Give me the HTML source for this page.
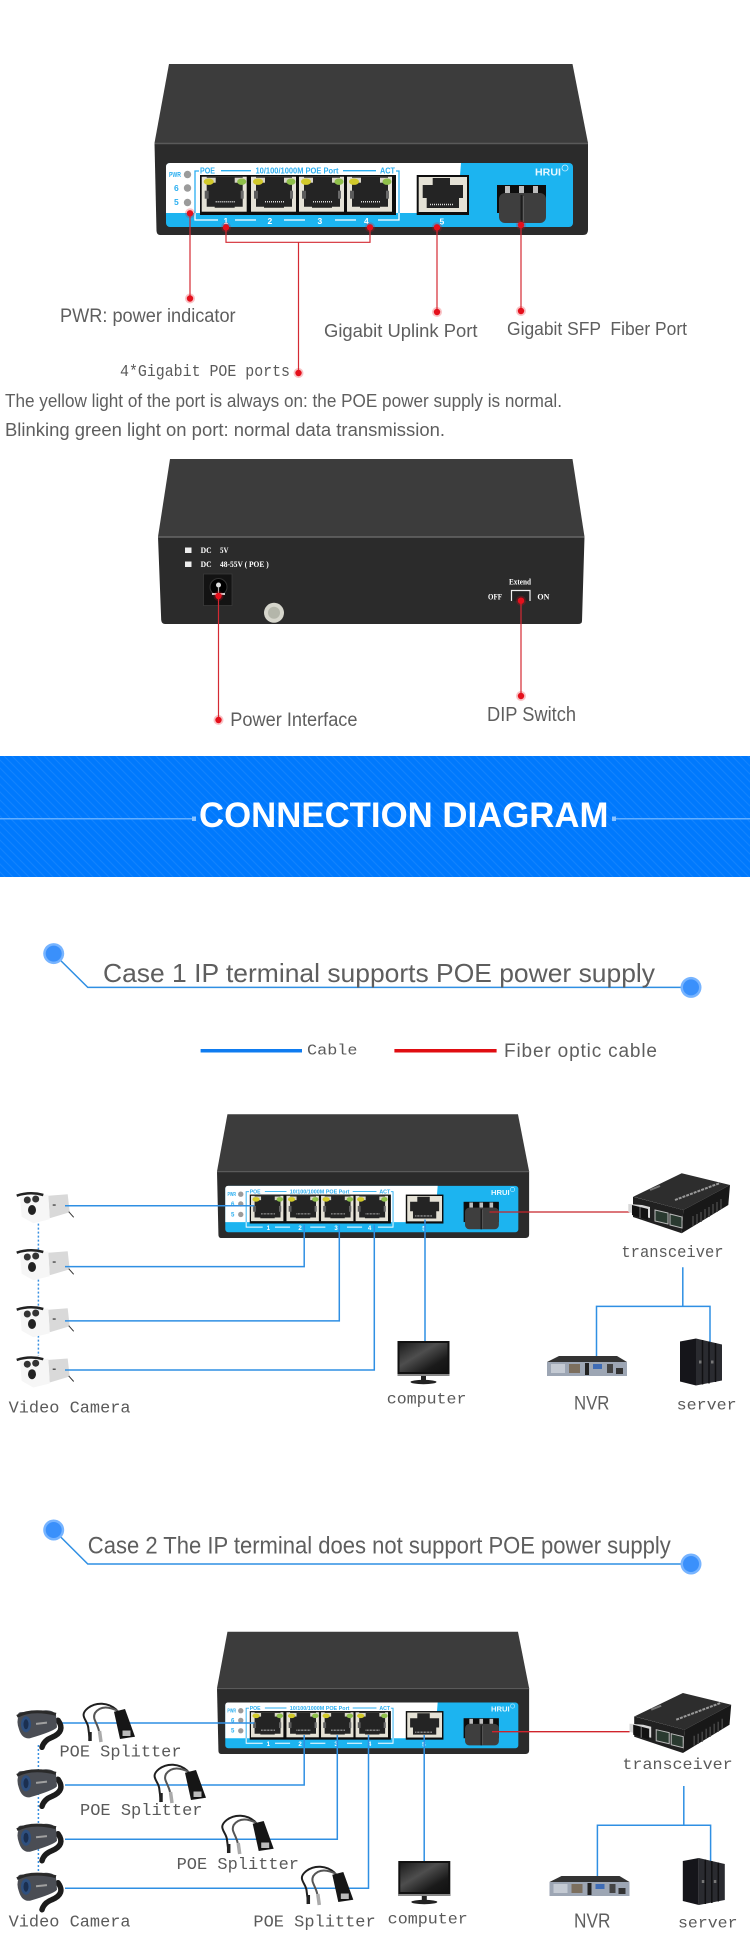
<!DOCTYPE html>
<html><head><meta charset="utf-8"><title>Connection Diagram</title>
<style>
html,body{margin:0;padding:0;background:#fff}
svg{display:block}
text{font-family:"Liberation Sans",sans-serif}
.s{fill:#5e5e5e}
.m{font-family:"Liberation Mono",monospace;fill:#5a5a5a}
.b{stroke:#2f8fe3;stroke-width:1.5;fill:none}
.r{stroke:#d42a33;stroke-width:1.2;fill:none}
.w{fill:#fff;font-family:"Liberation Serif",serif}
.c{fill:#2aaef0;font-weight:bold}
</style></head><body>
<svg width="750" height="1945" viewBox="0 0 750 1945" xmlns="http://www.w3.org/2000/svg">
<defs>
<linearGradient id="scr" x1="0" y1="0" x2="1" y2="1"><stop offset="0" stop-color="#1c1c1c"/><stop offset=".4" stop-color="#4e4e4e"/><stop offset=".75" stop-color="#1a1a1a"/><stop offset="1" stop-color="#111"/></linearGradient>
<pattern id="st" width="8" height="8" patternUnits="userSpaceOnUse"><path d="M0 0L8 8M-4 4L4 12M4 -4L12 4" stroke="#fff" stroke-opacity=".08" stroke-width="1"/></pattern>

<g id="port">
<rect width="45" height="35" fill="#e5e2d6"/>
<path d="M5 0H41V30H33V31H13V30H5Z" fill="#242424"/>
<rect x="3" y="1" width="11" height="5" fill="#d8d5c8"/><rect x="33" y="1" width="11" height="5" fill="#d8d5c8"/>
<rect x="3" y="14" width="4" height="8" fill="#5c5c5c"/><rect x="39" y="14" width="3" height="8" fill="#6a6a6a"/>
<path d="M14 25H34" stroke="#ddd" stroke-width="1.500" stroke-dasharray="1 1"/>
<ellipse cx="7" cy="5" rx="5" ry="3.200" fill="#d2c92a"/>
<ellipse cx="40" cy="5" rx="4.500" ry="3.200" fill="#8fc04a"/>
</g>

<g id="sw">
<polygon points="169,64 572.500,64 588,143 154.500,143" fill="#3c3c3c"/>
<path d="M154.500 143H588V230Q588 235 583 235H160Q157 235 156.500 231Z" fill="#2b2b2b"/>
<path d="M154.500 143.500H588" stroke="#5a5a5a" stroke-width="1.500"/>
<rect x="166" y="163" width="407" height="64" rx="4" fill="#1cb4f0"/>
<path d="M170 163H461L457 213H166V167Q166 163 170 163Z" fill="#fff"/>
<circle cx="187.500" cy="174.500" r="3.700" fill="#9b9b9b"/><circle cx="187.500" cy="188" r="3.700" fill="#9b9b9b"/><circle cx="187.500" cy="202.500" r="3.700" fill="#9b9b9b"/>
<text class="c" x="169" y="177" font-size="7.500" textLength="12" lengthAdjust="spacingAndGlyphs">PWR</text>
<text class="c" x="174" y="191" font-size="8.500">6</text>
<text class="c" x="174" y="205" font-size="8.500">5</text>
<path d="M195 213V220H218M235 220H256M284 220H305M335 220H356M378 220H399V213" fill="none" stroke="#fff" stroke-width="1.300"/>
<path d="M199 171H195V213" fill="none" stroke="#2aaef0" stroke-width="1.300"/>
<path d="M396 171H399V213" fill="none" stroke="#2aaef0" stroke-width="1.300"/>
<path d="M221 170.700H251M343 170.700H376" stroke="#2aaef0" stroke-width="1.300"/>
<text class="c" x="200" y="173.500" font-size="8" textLength="15" lengthAdjust="spacingAndGlyphs">POE</text>
<text class="c" x="255.500" y="173.500" font-size="8" textLength="83" lengthAdjust="spacingAndGlyphs">10/100/1000M POE Port</text>
<text class="c" x="380" y="173.500" font-size="8" textLength="15" lengthAdjust="spacingAndGlyphs">ACT</text>
<rect x="200" y="175" width="196" height="40" fill="#0d0d0d"/>
<use href="#port" x="201.700" y="176.700"/><use href="#port" x="251" y="176.700"/><use href="#port" x="299" y="176.700"/><use href="#port" x="347" y="176.700"/>
<g fill="#fff" font-weight="bold" font-size="8.500"><text x="223.500" y="224">1</text><text x="267.500" y="224">2</text><text x="317.500" y="224">3</text><text x="364" y="224">4</text><text x="439.500" y="224.500">5</text></g>
<rect x="416.700" y="175" width="52.300" height="40" fill="#0d0d0d"/>
<rect x="418.700" y="177" width="48.300" height="35" fill="#e5e2d6"/>
<path d="M432.700 178H450V185H463V198H459V208H426.700V198H422.700V185H432.700Z" fill="#242424"/>
<path d="M430 204.500H454" stroke="#ddd" stroke-width="1.500" stroke-dasharray="1 1"/>
<rect x="497" y="185" width="49" height="28" fill="#0d0d0d"/>
<path d="M505 186h5v7h-5zM519 186h5v7h-5zM533 186h5v7h-5z" fill="#bdbdbd"/>
<rect x="499" y="193" width="47" height="30" rx="6" fill="#3e3e3e"/>
<path d="M521.500 195V223" stroke="#1c1c1c" stroke-width="2"/><path d="M523.500 196V222" stroke="#5e5e5e" stroke-width="1"/>
<text x="535" y="175.500" fill="#e8f8ff" font-weight="bold" font-size="10" textLength="26" lengthAdjust="spacingAndGlyphs">HRUI</text>
<circle cx="565" cy="168" r="3" fill="none" stroke="#cdefff" stroke-width=".8"/>
</g>

<g id="camw">
<polygon points="31.600,3.400 51,2 53,20 33,26" fill="#d9d9d9"/>
<polygon points="3.300,4.400 31.600,2.200 33,27 16.600,31 5,24.400" fill="#f6f6f6"/>
<path d="M0 3.400Q13.300 -1 26.600 2.700" fill="none" stroke="#222" stroke-width="2.500"/>
<circle cx="10.600" cy="7.700" r="3.500" fill="#333"/><circle cx="19" cy="6.700" r="3.500" fill="#333"/>
<ellipse cx="15.300" cy="17.700" rx="4" ry="5" fill="#222"/>
<path d="M52 19.400L57 25" stroke="#333" stroke-width="1"/>
<rect x="36" y="12" width="3" height="1.500" fill="#555"/>
</g>

<g id="camd">
<path d="M42 11Q50 22 36 28Q28 31 26 38" fill="none" stroke="#1c1c1c" stroke-width="5.500" stroke-linecap="round"/>
<path d="M3 6Q1 4 4 3L30 1Q38 1 40 6L41 18Q38 22 14 29Q6 30 3 20Q0 12 3 6Z" fill="#4a4d54"/>
<path d="M1 7Q16 -1 40 5" fill="none" stroke="#2a2a2a" stroke-width="3"/>
<ellipse cx="10" cy="15" rx="5" ry="8" fill="#2e4f7e"/>
<ellipse cx="10" cy="15" rx="2.500" ry="5" fill="#1b2f50"/>
<rect x="20" y="13" width="11" height="2" fill="#a0a0a0" transform="rotate(-6 25 14)"/>
</g>

<g id="spl">
<path d="M36.700 10C28 2 16 2 8 8C-2 16 8 20 8.300 28L10 41" fill="none" stroke="#1f1f1f" stroke-width="2"/>
<path d="M38 11C28 6 20 6 15 13C12 19 17 22 19 31" fill="none" stroke="#555" stroke-width="2"/>
<path d="M10 32V41" stroke="#222" stroke-width="3.500"/><path d="M19.500 31L21 42" stroke="#aaa" stroke-width="3.500"/>
<polygon points="34,11.700 45,9 55,36.700 40,39" fill="#161616"/>
<rect x="42" y="30" width="9" height="6.500" fill="#bbb" stroke="#111" stroke-width="1"/>
</g>

<g id="trc">
<polygon points="633.300,1196.700 681.700,1173.300 730,1185 683.300,1210" fill="#2d2d2d"/>
<polygon points="683.300,1210 730,1185 728.300,1205 681.700,1233.300" fill="#181818"/>
<polygon points="633,1196.700 683.300,1210 681.700,1233.300 633,1217" fill="#202020"/>
<path d="M675 1200L720 1183" stroke="#999" stroke-width="2" stroke-dasharray="3 1"/>
<path d="M650 1190L660 1186" stroke="#777" stroke-width="2"/>
<path d="M693 1216V1226M697 1214V1224M701 1212V1222M705 1209V1219M709 1207V1217M713 1204V1214M717 1202V1212M721 1199V1209" stroke="#444" stroke-width="1.500"/>
<polygon points="628.300,1204 642,1205 650,1207 650,1218 645,1217 628.300,1212" fill="#d8d8d8"/>
<polygon points="632,1205 648,1209 648,1220 632,1215" fill="#111"/>
<path d="M640 1207V1218" stroke="#777" stroke-width="1"/>
<polygon points="655,1210 668,1213 668,1224 655,1221" fill="#2a3a30" stroke="#bbb" stroke-width="1"/>
<polygon points="670,1214 682,1217 682,1228 670,1225" fill="#2a3a30" stroke="#bbb" stroke-width="1"/>
</g>

<g id="mon">
<rect width="52" height="35" fill="#111"/>
<rect x="2" y="2" width="48" height="29" fill="url(#scr)"/>
<rect x="0" y="33" width="52" height="2" fill="#888"/>
<rect x="23.500" y="35" width="5" height="5" fill="#222"/>
<ellipse cx="26" cy="41" rx="13" ry="2.200" fill="#222"/>
</g>

<g id="nvr">
<polygon points="0,6 12,0 70,0 80,6" fill="#333"/>
<rect x="0" y="6" width="80" height="14" fill="#9da6b4"/>
<rect x="4" y="8" width="14" height="9" fill="#c4cad3"/>
<rect x="22" y="8" width="11" height="9" fill="#7c6f5e"/>
<rect x="38" y="7" width="4" height="12" fill="#222"/>
<rect x="46" y="8" width="9" height="5" fill="#3f6cb5"/>
<rect x="60" y="8" width="6" height="9" fill="#444"/><rect x="69" y="12" width="7" height="6" fill="#333"/>
</g>

<g id="srv">
<polygon points="0,3 16,0 16,47 0,43" fill="#15151a"/>
<polygon points="16,0 42,6 42,42 16,47" fill="#2a2b30"/>
<path d="M22.500 1.500V46M29 3V45M35.500 4.500V43.500" stroke="#101012" stroke-width="1.500"/>
<rect x="19" y="22" width="2.500" height="3" fill="#777"/><rect x="31" y="22" width="2.500" height="3" fill="#777"/>
</g>

<g id="rd"><circle r="5" fill="#e5101c" fill-opacity=".25"/><circle r="3.200" fill="#e5101c"/></g>
<g id="bd"><circle r="10.500" fill="#77b4ff"/><circle r="8" fill="#3a90fb"/></g>
</defs>

<rect width="750" height="1945" fill="#fff"/>

<!-- first switch -->
<use href="#sw"/>
<path class="r" d="M190 213V298M226 227V242.300H370V227M298.500 242.300V373M437 227V312M521 225V311"/>
<use href="#rd" x="190" y="213.300"/><use href="#rd" x="226" y="227.300"/><use href="#rd" x="370" y="227.300"/><use href="#rd" x="437" y="227.300"/><use href="#rd" x="521" y="225"/>
<use href="#rd" x="190" y="298.500"/><use href="#rd" x="298.500" y="373"/><use href="#rd" x="437" y="312"/><use href="#rd" x="521" y="311"/>
<text class="s" x="60" y="322" font-size="19" textLength="175.600" lengthAdjust="spacingAndGlyphs">PWR: power indicator</text>
<text class="s" x="324" y="337" font-size="18.500" textLength="153.500" lengthAdjust="spacingAndGlyphs">Gigabit Uplink Port</text>
<text class="s" x="507" y="335" font-size="18.500" textLength="180" lengthAdjust="spacingAndGlyphs" xml:space="preserve">Gigabit SFP  Fiber Port</text>
<text class="m" x="120" y="376" font-size="17" textLength="170" lengthAdjust="spacingAndGlyphs">4*Gigabit POE ports</text>
<text class="s" x="5" y="407" font-size="18.500" textLength="557" lengthAdjust="spacingAndGlyphs">The yellow light of the port is always on: the POE power supply is normal.</text>
<text class="s" x="5" y="436" font-size="18.500" textLength="440" lengthAdjust="spacingAndGlyphs">Blinking green light on port: normal data transmission.</text>

<!-- rear switch -->
<polygon points="170,459 572.500,459 584.500,536.700 158,536.700" fill="#3c3c3c"/>
<path d="M158 536.700H584.500L582 621Q582 624 578 624H165Q161.700 624 161.200 620Z" fill="#2b2b2b"/>
<path d="M158 537H584.500" stroke="#666" stroke-width="1.500"/>
<rect x="185" y="547.500" width="6.500" height="5.500" fill="#eee"/><rect x="185" y="561.500" width="6.500" height="5.500" fill="#eee"/>
<g class="w" font-weight="bold">
<text class="w" x="200.600" y="553" font-size="8.500" textLength="11" lengthAdjust="spacingAndGlyphs">DC</text>
<text class="w" x="220" y="553" font-size="8.500" textLength="8.500" lengthAdjust="spacingAndGlyphs">5V</text>
<text class="w" x="200.600" y="567" font-size="8.500" textLength="11" lengthAdjust="spacingAndGlyphs">DC</text>
<text class="w" x="220" y="567" font-size="8.500" textLength="48.700" lengthAdjust="spacingAndGlyphs">48-55V ( POE )</text>
<text class="w" x="509" y="584.500" font-size="8.500" textLength="22" lengthAdjust="spacingAndGlyphs">Extend</text>
<text class="w" x="488" y="599.500" font-size="8" textLength="14" lengthAdjust="spacingAndGlyphs">OFF</text>
<text class="w" x="537.400" y="599.500" font-size="8" textLength="12" lengthAdjust="spacingAndGlyphs">ON</text>
</g>
<rect x="203.500" y="574" width="28.500" height="31.500" fill="#131313" stroke="#3e3e3e" stroke-width=".7"/>
<circle cx="218.500" cy="587" r="8.500" fill="#000" stroke="#333"/>
<circle cx="218.500" cy="585" r="2.500" fill="#ddd"/><path d="M218.500 587V593" stroke="#aaa" stroke-width="1.200"/>
<rect x="212" y="593" width="13" height="2" fill="#ccc"/>
<circle cx="274" cy="612.800" r="10" fill="#d6d6cc"/><circle cx="274" cy="612.800" r="6" fill="#b4b6aa"/>
<path d="M511.500 601V590.500H530V601" fill="#222" stroke="#eee" stroke-width="1.200"/>
<path class="r" d="M218.500 596V720M521 601V696"/>
<use href="#rd" x="218.500" y="596"/><use href="#rd" x="521" y="600.700"/><use href="#rd" x="218.500" y="720"/><use href="#rd" x="521" y="696"/>
<text class="s" x="230.300" y="726" font-size="19" textLength="127.200" lengthAdjust="spacingAndGlyphs">Power Interface</text>
<text class="s" x="487" y="721" font-size="20" textLength="89" lengthAdjust="spacingAndGlyphs">DIP Switch</text>

<!-- banner -->
<rect x="0" y="756" width="750" height="121" fill="#0079fd"/>
<rect x="0" y="756" width="750" height="121" fill="url(#st)"/>
<path d="M0 818.800H194M612 818.800H750" stroke="#62aeff" stroke-width="1.500"/>
<rect x="192" y="816.500" width="4" height="4.500" fill="#8cc4ff"/><rect x="612" y="816.500" width="4" height="4.500" fill="#8cc4ff"/>
<text x="199" y="827" fill="#fff" font-weight="bold" font-size="35" textLength="409.500" lengthAdjust="spacingAndGlyphs">CONNECTION DIAGRAM</text>

<!-- Case 1 -->
<path class="b" d="M53.700 953.600L87.800 987.400H691"/>
<use href="#bd" x="53.700" y="953.600"/><use href="#bd" x="691" y="987.400"/>
<text class="s" x="103" y="982" font-size="26" textLength="552" lengthAdjust="spacingAndGlyphs">Case 1 IP terminal supports POE power supply</text>
<path d="M200.600 1050.700H302" stroke="#0f7cf0" stroke-width="3.500"/>
<path d="M394.400 1050.700H496.600" stroke="#e00d12" stroke-width="3.500"/>
<text class="m" x="307" y="1054.500" font-size="15" textLength="50.500" lengthAdjust="spacingAndGlyphs">Cable</text>
<text class="s" x="504" y="1057.200" font-size="19" textLength="153" lengthAdjust="spacing">Fiber optic cable</text>

<use href="#sw" transform="matrix(.72 0 0 .724 105.760 1067.860)"/>
<path d="M38.400 1219.600V1356" stroke="#3a90e0" stroke-width="1.500" stroke-dasharray="2 2"/>
<use href="#camw" x="16.700" y="1192.300"/><use href="#camw" x="16.700" y="1249.300"/><use href="#camw" x="16.700" y="1306.300"/><use href="#camw" x="16.700" y="1356.500"/>
<path class="b" d="M65 1205.800H254.300M65 1266.600H304.200V1224.800M65 1320.900H339.300V1224.800M65 1370H374.300V1224.800M425 1219.600V1342.300"/>
<path d="M489.500 1212H629.600" stroke="#c8242a" stroke-width="1.300"/>
<use href="#trc"/>
<text class="m" x="621.400" y="1257" font-size="17" textLength="102.200" lengthAdjust="spacingAndGlyphs">transceiver</text>
<path class="b" d="M682.800 1267.300V1306.400M596.500 1357.800V1306.400H710V1344"/>
<use href="#mon" x="397.500" y="1341"/>
<use href="#nvr" x="547" y="1356"/>
<use href="#srv" x="680" y="1338.500"/>
<text class="m" x="386.800" y="1403.500" font-size="16" textLength="79.600" lengthAdjust="spacingAndGlyphs">computer</text>
<text class="s" x="574" y="1409.700" font-size="19" textLength="35.400" lengthAdjust="spacingAndGlyphs">NVR</text>
<text class="m" x="676.600" y="1409.700" font-size="16" textLength="60" lengthAdjust="spacingAndGlyphs">server</text>
<text class="m" x="8.600" y="1412.400" font-size="17" textLength="122" lengthAdjust="spacingAndGlyphs">Video Camera</text>

<!-- Case 2 -->
<path class="b" d="M53.700 1530L87.800 1564H691"/>
<use href="#bd" x="53.700" y="1530"/><use href="#bd" x="691" y="1564"/>
<text class="s" x="87.800" y="1553.300" font-size="24" textLength="583" lengthAdjust="spacingAndGlyphs">Case 2 The IP terminal does not support POE power supply</text>

<use href="#sw" transform="matrix(.72 0 0 .715 105.760 1585.940)"/>
<path d="M38.400 1745V1872" stroke="#3a90e0" stroke-width="1.500" stroke-dasharray="2 2"/>
<path class="b" d="M62.400 1723H254.300M65 1785H304.200V1735M65 1839.300H337.300V1735M65 1888.300H368.500V1735M424.200 1735V1861"/>
<use href="#camd" x="16" y="1709.300"/><use href="#camd" x="16" y="1768.300"/><use href="#camd" x="16" y="1822.700"/><use href="#camd" x="16" y="1871.700"/>
<use href="#spl" x="80" y="1700"/><use href="#spl" x="151" y="1761"/><use href="#spl" x="218.700" y="1812"/><use href="#spl" x="298.300" y="1863"/>
<text class="m" x="59.500" y="1756.700" font-size="17" textLength="122" lengthAdjust="spacingAndGlyphs">POE Splitter</text>
<text class="m" x="80" y="1815" font-size="17" textLength="122.500" lengthAdjust="spacingAndGlyphs">POE Splitter</text>
<text class="m" x="176.600" y="1869" font-size="17" textLength="122.400" lengthAdjust="spacingAndGlyphs">POE Splitter</text>
<text class="m" x="253.400" y="1926.700" font-size="17" textLength="122.300" lengthAdjust="spacingAndGlyphs">POE Splitter</text>
<path d="M492 1731.700H629.600" stroke="#d0242c" stroke-width="1.300"/>
<use href="#trc" transform="translate(1.200 519.700)"/>
<text class="m" x="622.400" y="1769" font-size="16" textLength="110.300" lengthAdjust="spacingAndGlyphs">transceiver</text>
<path class="b" d="M683.800 1786V1825.300M597.400 1876V1825.300H710.600V1861.700"/>
<use href="#mon" x="398.300" y="1861"/>
<use href="#nvr" x="549.500" y="1876"/>
<use href="#srv" x="682.800" y="1858"/>
<text class="m" x="387.700" y="1923.300" font-size="16" textLength="80.100" lengthAdjust="spacingAndGlyphs">computer</text>
<text class="s" x="574" y="1927.700" font-size="20" textLength="36.400" lengthAdjust="spacingAndGlyphs">NVR</text>
<text class="m" x="678" y="1927.700" font-size="16" textLength="59.500" lengthAdjust="spacingAndGlyphs">server</text>
<text class="m" x="8.600" y="1926.700" font-size="17" textLength="122" lengthAdjust="spacingAndGlyphs">Video Camera</text>
</svg>
</body></html>
